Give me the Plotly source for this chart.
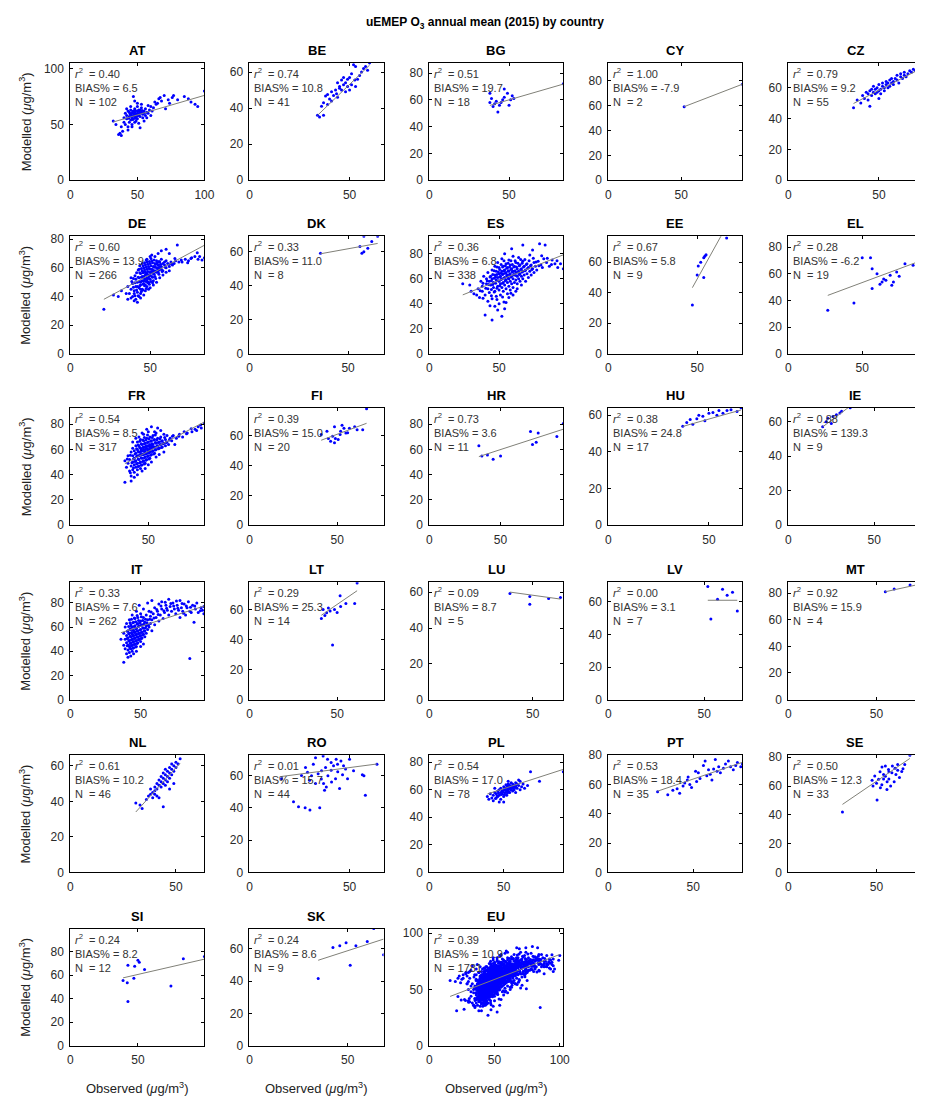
import numpy as np
import plotly.graph_objects as go

W, H = 925, 1109

# ---- panel statistics -------------------------------------------------------
COUNTRIES = ["AT", "BE", "BG", "CY", "CZ",
             "DE", "DK", "ES", "EE", "EL",
             "FR", "FI", "HR", "HU", "IE",
             "IT", "LT", "LU", "LV", "MT",
             "NL", "RO", "PL", "PT", "SE",
             "SI", "SK", "EU"]
R2 = [0.40, 0.74, 0.51, 1.00, 0.79,
      0.60, 0.33, 0.36, 0.67, 0.28,
      0.54, 0.39, 0.73, 0.38, 0.88,
      0.33, 0.29, 0.09, 0.00, 0.92,
      0.61, 0.01, 0.54, 0.53, 0.50,
      0.24, 0.24, 0.39]
BIAS = [6.5, 10.8, 19.7, -7.9, 9.2,
        13.9, 11.0, 6.8, 5.8, -6.2,
        8.5, 15.0, 3.6, 24.8, 139.3,
        7.6, 25.3, 8.7, 3.1, 15.9,
        10.2, 15.7, 17.0, 18.4, 12.3,
        8.2, 8.6, 10.9]
NSTAT = [102, 41, 18, 2, 55,
         266, 8, 338, 9, 19,
         317, 20, 11, 17, 9,
         262, 14, 5, 7, 4,
         46, 44, 78, 35, 33,
         12, 9, 1781]
XMAX = [100, 67, 84, 92, 74,
        84, 68, 96, 75.5, 90.7,
        86, 76.5, 94, 66.7, 78,
        95.4, 76.5, 64.8, 70, 76,
        63.5, 67, 90, 79, 76,
        99.2, 68.3, 102.7]
YMAX = [105, 65, 87.5, 94, 76,
        82, 69, 94, 77, 88,
        93, 78.6, 93, 64, 68,
        97, 78, 65.5, 72, 88,
        66, 72.6, 85, 80, 81.5,
        99.6, 72.6, 104]
FIT_SLOPE = [0.35, 1.07, 0.346, 0.45, 0.61,
             0.60, 0.21, 0.446, 2.1, 0.413,
             0.647, 0.438, 0.367, 0.31, 0.75,
             0.373, 0.8, -0.16, 0.0, 0.29,
             1.31, 0.162, 0.35, 0.394, 0.836,
             0.264, 0.393, 0.443]
FIT_INTERCEPT = [41, -0.4, 42.7, 35.6, 27.8,
                 25.4, 51.2, 36.4, -56, 32.7,
                 26.2, 39, 41.6, 42.4, 42,
                 41.9, 23.3, 66.3, 61, 65,
                 -6.6, 56.8, 43.2, 44, 21.6,
                 47.4, 39.2, 36.7]

# ---- station data (observed, modelled) in ug/m3 -----------------------------
AT = [(32,53),(34,50),(36,41),(38,40),(37,42),(38,48),(40,52),(40,56),(41,60),(42,55),
      (42,58),(43,48),(43,62),(44,57),(44,52),(45,59),(45,54),(45,63),(46,56),(46,60),
      (46,50),(47,58),(47,62),(47,55),(48,57),(48,61),(48,64),(48,52),(49,59),(49,56),
      (50,60),(50,62),(50,55),(50,66),(51,58),(51,63),(52,57),(52,60),(52,47),(53,61),
      (53,65),(54,59),(54,56),(55,62),(55,60),(56,64),(56,58),(57,61),(58,60),(58,67),
      (59,63),(60,66),(61,62),(62,65),(63,70),(64,68),(65,69),(66,73),(67,74),(68,71),
      (70,76),(71,64),(73,72),(74,69),(76,74),(77,76),(80,72),(85,75),(88,73),(90,70),
      (93,68),(95,66),(100,80),(47,75),(50,69),(53,68),(48,71),(45,66),(43,45),(42,64),
      (39,44),(41,50),(55,53),(57,56),(60,58),(46,48),(49,53),(51,51),(44,61),(52,63),
      (43.5,55.5),(44.5,59.5),(45.5,57.5),(46.5,61.5),(46.5,54.5),(47.5,59.5),
      (48.5,55.5),(48.5,62.5),(49.5,57.5),(50.5,59.5),(51.5,61.5),(53.5,62.5)]
BE = [(60,65),(52,64),(53,63),(59,61),(52.6,55.5),(49,56),(46,55.5),(44,54),(53,52),(49,52),
      (45,51),(43,50),(48,49),(43.5,48),(41,49),(39,47.6),(40,45),(38,46.7),(37,43),(36,41),
      (35,35),(37,36),(34,36),(47,53),(50,57),(51,53),(55,58),(56,60),(54,56),(42,47),
      (44,46),(46,50),(48,54),(50,50),(41,44),(39,42),(57,62),(45,52),(47,57),(51,59),(58,63)]
BG = [(84,72),(38,65),(47,62),(51,60),(53,61),(38,58),(40,55),(44,56),(42,59),(43,51),
      (45,58),(50,56),(47,68),(52,63),(39,61),(41,57),(46,60),(49,65)]
CY = [(52,59),(92,77)]
CZ = [(36,47),(38,52),(40,50),(41,55),(42,53),(43,57),(44,52),(44,56),(45,58),(46,55),
      (46,59),(47,57),(47,61),(48,56),(48,59),(49,60),(49,57),(50,58),(50,62),(51,59),
      (51,56),(52,61),(52,63),(53,58),(53,60),(54,62),(54,64),(55,60),(55,63),(56,65),
      (56,61),(57,63),(57,66),(58,64),(58,62),(59,66),(60,65),(60,68),(61,63),(62,67),
      (62,69),(63,66),(64,68),(64,70),(65,67),(66,69),(67,71),(68,70),(69,72),(70,71),
      (71,73),(72,70),(74,76),(45,48),(50,53)]
DE = [(21,31),(27,41),(30,40),(32,44),(35,42),(36,38),(37,42),(38,45),(39,40),(40,37),
      (40,44),(41,38),(41,47),(42,43),(42,50),(43,40),(43,46),(43,53),(44,42),(44,48),
      (44,56),(45,45),(45,51),(45,58),(46,41),(46,49),(46,54),(46,60),(47,44),(47,52),
      (47,57),(47,62),(48,47),(48,53),(48,59),(48,64),(49,50),(49,55),(49,61),(50,46),
      (50,52),(50,57),(50,63),(51,54),(51,59),(51,65),(52,51),(52,56),(52,61),(53,58),
      (53,63),(53,54),(54,60),(54,65),(55,57),(55,62),(56,59),(56,64),(57,61),(57,66),
      (58,58),(58,63),(59,62),(60,60),(60,65),(61,63),(62,61),(63,64),(64,62),(65,63),
      (66,65),(67,76),(68,64),(70,64),(72,66),(74,65),(76,67),(78,68),(80,66),(81,68),
      (84,67),(57,72),(55,70),(53,68),(51,69),(62,70),(60,73),(39,49),(41,52),(43,59),
      (45,63),(42,36),(44,39),(47,48),(49,45),(52,48),(54,50),(56,53),(58,55),(60,57),
      (62,58),(38,53),(36,47),(48,66),(50,68),(46,51),(44,50),(48,56),(50,59),(52,58),
      (49,53),(51,57),(47,55),(53,61),(45,54),(55,60),(57,59),(59,64),(46,57),(48,51),
      (50,55),(54,57),(56,61),(44,45),(42,47),(40,42),(38,39),
      (38.5,50.5),(39.5,52.5),(40.5,49.5),(40.5,54.5),(41.5,56.5),(42.5,53.5),(42.5,58.5),
      (43.5,50.5),(43.5,56.5),(43.5,61.5),(44.5,53.5),(44.5,59.5),(45.5,48.5),(45.5,56.5),
      (45.5,61.5),(46.5,52.5),(46.5,58.5),(46.5,63.5),(47.5,50.5),(47.5,55.5),(47.5,60.5),
      (47.5,65.5),(48.5,52.5),(48.5,57.5),(48.5,62.5),(49.5,54.5),(49.5,59.5),(49.5,64.5),
      (50.5,50.5),(50.5,56.5),(50.5,61.5),(50.5,66.5),(51.5,53.5),(51.5,58.5),(51.5,63.5),
      (52.5,55.5),(52.5,60.5),(52.5,65.5),(53.5,57.5),(53.5,62.5),(54.5,59.5),(54.5,63.5),
      (55.5,58.5),(55.5,64.5),(56.5,62.5),(45.5,44.5),(43.5,47.5),(41.5,44.5),(39.5,46.5),
      (48.5,49.5),(46.5,47.5),(44.5,43.5),(42.5,40.5),(40.5,40.5),(47.5,45.5),(49.5,48.5),
      (51.5,49.5),(53.5,52.5),(55.5,55.5),(57.5,57.5),(59.5,60.5),(61.5,62.5),(63.5,62.5),
      (65.5,66.5),(69.5,65.5),(75.5,66.5),(79.5,70.5),(73.5,63.5),(82.5,65.5)]
DK = [(58,69),(65,69),(56,63),(58,60),(57,59),(60,62),(36,59),(62,66)]
ES = [(24,56),(29,55),(30,50),(32,48),(34,47),(35,52),(36,45),(37,58),(38,50),(38,54),
      (39,62),(40,31),(40,47),(41,56),(41,60),(42,52),(42,65),(43,49),(43,58),(44,55),
      (44,62),(45,27),(45,44),(45,60),(45,67),(46,53),(46,57),(47,50),(47,63),(47,70),
      (48,46),(48,59),(48,66),(49,54),(49,61),(49,73),(50,51),(50,58),(50,64),(50,69),
      (51,47),(51,56),(51,62),(52,30),(52,53),(52,60),(52,66),(52,76),(53,50),(53,57),
      (53,64),(53,70),(54,55),(54,61),(54,67),(54,80),(55,52),(55,59),(55,65),(55,72),
      (56,48),(56,57),(56,63),(56,69),(57,54),(57,60),(57,66),(57,75),(58,51),(58,58),
      (58,64),(58,71),(59,84),(59,56),(59,62),(59,68),(60,53),(60,60),(60,66),(60,78),
      (61,57),(61,63),(61,70),(62,50),(62,59),(62,65),(62,73),(63,56),(63,62),(63,68),
      (64,60),(64,66),(64,77),(65,58),(65,64),(65,71),(66,62),(66,68),(67,87),(67,60),
      (67,66),(67,74),(68,63),(68,70),(69,58),(69,67),(70,64),(70,72),(71,61),(71,69),
      (72,66),(72,79),(73,63),(73,71),(74,83),(74,68),(75,65),(75,73),(76,70),(77,67),
      (78,74),(79,88),(80,71),(81,69),(82,76),(83,87),(84,73),(86,70),(88,75),(90,72),
      (92,69),(94,72),(96,68),(57,45),(60,47),(63,52),(66,55),(55,41),(50,40),(47,38),
      (42,42),(54,36),(49,35),
      (38.5,56.5),(40.5,52.5),(41.5,58.5),(42.5,55.5),(43.5,61.5),(44.5,51.5),(44.5,58.5),
      (45.5,55.5),(45.5,63.5),(46.5,49.5),(46.5,60.5),(46.5,66.5),(47.5,56.5),(47.5,61.5),
      (48.5,52.5),(48.5,63.5),(48.5,69.5),(49.5,58.5),(49.5,65.5),(50.5,54.5),(50.5,61.5),
      (50.5,67.5),(51.5,59.5),(51.5,64.5),(51.5,71.5),(52.5,56.5),(52.5,63.5),(52.5,69.5),
      (53.5,60.5),(53.5,66.5),(53.5,74.5),(54.5,58.5),(54.5,64.5),(54.5,70.5),(55.5,62.5),
      (55.5,68.5),(56.5,60.5),(56.5,66.5),(56.5,72.5),(57.5,63.5),(57.5,69.5),(58.5,61.5),
      (58.5,67.5),(58.5,74.5),(59.5,65.5),(59.5,71.5),(60.5,63.5),(60.5,69.5),(61.5,66.5),
      (61.5,74.5),(62.5,62.5),(62.5,69.5),(63.5,65.5),(63.5,72.5),(64.5,63.5),(64.5,70.5),
      (65.5,67.5),(65.5,75.5),(66.5,65.5),(66.5,72.5),(67.5,69.5),(68.5,66.5),(68.5,75.5),
      (69.5,71.5),(70.5,68.5),(71.5,74.5),(72.5,70.5),(73.5,67.5),(74.5,76.5),(76.5,73.5),
      (78.5,70.5),(80.5,78.5),(84.5,76.5),(87.5,71.5),(91.5,74.5),(44.5,46.5),(48.5,43.5),
      (52.5,45.5),(53.5,41.5),(58.5,48.5),(43.5,38.5),(38.5,44.5),(36.5,50.5)]
EE = [(47.3,32),(50,51.6),(53.7,50),(50.6,57.6),(54.3,64),(53.7,63),(66.6,76),(55,65),(52,60)]
EL = [(26.7,32.5),(44.4,38),(56.7,48.8),(50,72),(55.6,72),(56.7,63.8),(63.4,53.8),(64.5,56),
      (68.9,58.8),(70,51.3),(71.1,53.8),(73.3,61.3),(78.9,67.5),(84.4,66.3),(66,55),(62,52),
      (60,60),(75,58),(88,70)]
FR = [(35,34),(39,35),(35,51),(36,46),(37,49),(37,55),(38,43),(38,52),(39,47),(39,58),
      (40,44),(40,50),(40,55),(40,61),(41,42),(41,48),(41,53),(41,59),(42,46),(42,51),
      (42,57),(42,63),(43,44),(43,49),(43,55),(43,60),(43,66),(44,47),(44,52),(44,58),
      (44,63),(45,45),(45,50),(45,56),(45,61),(45,68),(46,48),(46,53),(46,59),(46,64),
      (47,51),(47,56),(47,62),(47,67),(47,72),(48,49),(48,54),(48,60),(48,65),(49,52),
      (49,57),(49,63),(49,69),(50,55),(50,60),(50,66),(50,74),(51,53),(51,58),(51,64),
      (51,70),(52,56),(52,61),(52,67),(52,78),(53,59),(53,64),(53,71),(54,57),(54,62),
      (54,68),(55,60),(55,65),(55,73),(56,63),(56,69),(56,77),(57,61),(57,66),(58,64),
      (58,70),(59,62),(59,67),(60,65),(60,72),(61,63),(61,68),(62,66),(62,71),(63,64),
      (64,69),(65,67),(66,71),(67,64),(68,69),(70,72),(72,70),(73,74),(75,73),(78,74),
      (80,76),(81,75),(82,78),(84,77),(86,81),(44,70),(46,73),(49,76),(54,74),(58,75),
      (40,66),(42,69),(39,39),(41,38),(43,40),(46,43),(48,45),(50,48),(52,50),(55,54),
      (57,56),(60,58),(50,63),(48,58),(46,56),(47,60),(49,61),(51,62),(52,63),(53,62),
      (45,58),(44,55),(48,62),(50,58),(51,60),
      (40.5,52.5),(41.5,50.5),(41.5,56.5),(42.5,48.5),(42.5,54.5),(42.5,60.5),(43.5,46.5),
      (43.5,52.5),(43.5,58.5),(43.5,63.5),(44.5,49.5),(44.5,55.5),(44.5,61.5),(44.5,66.5),
      (45.5,47.5),(45.5,53.5),(45.5,59.5),(45.5,64.5),(46.5,50.5),(46.5,56.5),(46.5,61.5),
      (46.5,67.5),(47.5,48.5),(47.5,53.5),(47.5,58.5),(47.5,64.5),(47.5,69.5),(48.5,51.5),
      (48.5,56.5),(48.5,62.5),(48.5,67.5),(49.5,54.5),(49.5,59.5),(49.5,65.5),(49.5,71.5),
      (50.5,52.5),(50.5,57.5),(50.5,62.5),(50.5,68.5),(51.5,55.5),(51.5,60.5),(51.5,66.5),
      (52.5,58.5),(52.5,64.5),(52.5,69.5),(53.5,56.5),(53.5,61.5),(53.5,67.5),(54.5,59.5),
      (54.5,65.5),(54.5,71.5),(55.5,62.5),(55.5,67.5),(56.5,60.5),(56.5,65.5),(57.5,63.5),
      (57.5,68.5),(58.5,61.5),(58.5,66.5),(59.5,64.5),(60.5,69.5),(61.5,65.5),(63.5,67.5),
      (65.5,70.5),(69.5,70.5),(74.5,72.5),(77.5,76.5),(83.5,79.5),(38.5,41.5),(40.5,45.5),
      (39.5,49.5),(38.5,55.5),(36.5,52.5)]
FI = [(66.8,78),(48.5,66),(52.8,67),(57,65),(47.4,59.6),(50.6,57.4),(46.3,56.3),(48.5,55.2),
      (51.7,60.7),(55,61.8),(61.4,64),(64.6,64),(40.9,60.7),(53.9,65),(44.2,62.9),(49,58),
      (52,63),(45,58),(56,62),(60,66)]
HR = [(36.9,54.9),(40.8,55.6),(44.8,52.3),(50,54.9),(34.8,63),(71,74.3),(76.4,73),
      (72.4,63.9),(75,65.7),(89.5,70.4),(94,80.7)]
HU = [(37,54),(39,56),(40.7,57.7),(42,55),(44,58),(45,60),(47,59.4),(48,57),(50,61),
      (52,61.5),(54,60),(55,62.5),(57,61),(59,62.6),(61,63),(64,62),(66,64)]
IE = [(20,57),(22,60),(23,62),(25,59),(26,63),(28,64),(30,65),(31,66),(36,68)]
IT = [(38,31),(85,34),(36,50),(38,45),(38,55),(39,42),(39,50),(39,60),(40,38),(40,47),
      (40,53),(40,63),(41,41),(41,45),(41,51),(41,57),(42,39),(42,44),(42,49),(42,55),
      (42,66),(43,42),(43,47),(43,52),(43,58),(43,62),(44,40),(44,45),(44,50),(44,54),
      (44,60),(44,70),(45,43),(45,48),(45,53),(45,57),(45,64),(46,46),(46,51),(46,56),
      (46,61),(46,67),(47,44),(47,49),(47,54),(47,59),(47,73),(48,47),(48,52),(48,57),
      (48,63),(48,68),(49,50),(49,55),(49,61),(49,78),(50,48),(50,53),(50,58),(50,65),
      (50,71),(51,51),(51,56),(51,62),(52,54),(52,59),(52,68),(52,75),(53,52),(53,57),
      (53,64),(54,55),(54,61),(54,70),(55,58),(55,66),(55,80),(56,60),(56,73),(57,63),
      (57,69),(58,57),(58,66),(58,82),(59,71),(60,62),(60,76),(61,68),(62,73),(63,79),
      (63,65),(64,70),(65,81),(65,75),(66,67),(67,72),(68,78),(69,74),(70,83),(70,70),
      (71,77),(72,73),(73,80),(74,75),(75,71),(76,78),(77,74),(78,82),(78,68),(79,76),
      (80,73),(81,79),(82,70),(83,76),(84,81),(85,73),(86,72),(87,78),(88,64),(89,75),
      (90,80),(91,72),(93,76),(94,74),(95,71),(95,77),(50,44),(52,46),(45,38),(47,40),
      (41,35),(43,36),
      (40.5,44.5),(40.5,50.5),(40.5,56.5),(41.5,48.5),(41.5,54.5),(41.5,60.5),(42.5,42.5),
      (42.5,46.5),(42.5,52.5),(42.5,58.5),(42.5,63.5),(43.5,44.5),(43.5,49.5),(43.5,55.5),
      (43.5,60.5),(43.5,66.5),(44.5,42.5),(44.5,47.5),(44.5,52.5),(44.5,57.5),(44.5,63.5),
      (45.5,45.5),(45.5,50.5),(45.5,55.5),(45.5,60.5),(45.5,67.5),(46.5,43.5),(46.5,48.5),
      (46.5,53.5),(46.5,58.5),(46.5,64.5),(47.5,46.5),(47.5,51.5),(47.5,56.5),(47.5,62.5),
      (47.5,69.5),(48.5,49.5),(48.5,54.5),(48.5,60.5),(48.5,65.5),(49.5,52.5),(49.5,57.5),
      (49.5,63.5),(50.5,50.5),(50.5,55.5),(50.5,61.5),(50.5,68.5),(51.5,53.5),(51.5,59.5),
      (51.5,65.5),(52.5,56.5),(52.5,62.5),(53.5,59.5),(53.5,66.5),(54.5,63.5),(55.5,61.5),
      (56.5,66.5),(57.5,72.5),(59.5,67.5),(61.5,74.5),(64.5,77.5),(66.5,73.5),(68.5,75.5),
      (71.5,79.5),(73.5,77.5),(76.5,75.5),(79.5,79.5),(82.5,77.5),(85.5,76.5),(88.5,77.5),
      (92.5,73.5),(62.5,70.5),(67.5,80.5),(75.5,81.5),(80.5,71.5)]
LT = [(51.7,69),(60,64),(48.5,60),(42,60),(44,57.8),(46,59),(41,54),(47.4,36.4),(61.4,77.5),
      (52,62),(50,58),(43,56),(45,61),(55,64)]
LU = [(39,59.3),(48.6,57.6),(57.7,56.5),(48.6,53.2),(63.4,57)]
LV = [(51.9,69.5),(59.6,67.7),(64.8,65.9),(57,61.6),(53.5,49.5),(67.3,54.4),(62,64)]
MT = [(55,81),(60,83),(69,86),(74,87)]
NL = [(31,39),(33,38),(34,36),(36,41),(37,43),(38,44),(38,47),(39,45),(39,42),(40,46),
      (40,48),(40,44),(41,47),(41,50),(41,43),(42,42),(42,49),(42,52),(43,48),(43,51),
      (43,54),(44,37),(44,50),(44,53),(44,56),(45,49),(45,52),(45,55),(45,58),(46,51),
      (46,54),(46,57),(47,53),(47,56),(47,59),(47,47),(48,55),(48,58),(48,61),(49,57),
      (49,60),(49,50),(50,59),(50,62),(51,61),(52,64)]
RO = [(36.8,72),(31.9,67),(40.8,68),(43.3,70),(45.7,69),(34.3,61),(31,59.8),(35.9,57.9),
      (39.2,59.8),(40.8,63.3),(44.1,62.3),(46.5,60.4),(56.4,60.4),(57.2,59.8),(63.7,67),
      (57.9,47.8),(22,43.7),(24.5,40.7),(27.8,40.1),(30.2,38.7),(35.1,40.1),(38.4,52.9),
      (37.5,50.8),(33,55),(29,62),(42,66),(48,64),(50,70),(47,66),(38,65),(36,63),(41,56),
      (43,58),(45,52),(33,71),(39,70),(52,63),(49,58),(28,65),(26,60),(44,67),(37,55),
      (30,57),(16,58)]
PL = [(39,55),(40,53),(41,57),(42,54),(43,52),(43,56),(44,58),(45,54),(45,57),(46,55),
      (46,59),(47,56),(47,60),(48,53),(48,58),(48,61),(49,57),(49,59),(50,55),(50,60),
      (50,62),(51,58),(51,61),(52,59),(52,63),(52,56),(53,60),(53,62),(53,64),(54,58),
      (54,61),(54,63),(55,60),(55,62),(55,65),(56,59),(56,61),(56,64),(57,60),(57,63),
      (58,62),(58,65),(59,61),(59,64),(60,63),(61,60),(61,66),(62,62),(63,64),(64,61),
      (66,63),(68,73),(74,66),(90,73),(47,51),(50,51),(44,61),(58,58),(60,67),(53,66),
      (49.5,58.5),(51.5,59.5),(52.5,61.5),(53.5,58.5),(54.5,62.5),(55.5,61.5),(56.5,62.5),
      (50.5,56.5),(48.5,56.5),(46.5,57.5),(57.5,61.5),(51.5,63.5),(54.5,60.5),(52.5,57.5),
      (45.5,55.5),(44.5,53.5),(58.5,63.5),(53.5,63.5)]
PT = [(29,55),(35,53),(38,56),(40.5,57),(42,54),(44,59),(46.5,63),(48,60),(49,58),(51.4,69),
      (52,62),(54,64),(56,73),(57,76),(58,66),(60,67),(61,63),(62,70.6),(63,77),(64,69),
      (65,72),(66,68),(67.8,71),(69,74),(70.7,76),(72,72),(73.6,70),(75,73),(76,75),(78,72),
      (79,74),(47,65),(53,68),(59,70),(45,61)]
SE = [(30.7,42),(50.3,50.3),(52.2,58.8),(55,66.9),(56.8,71.6),(53.1,73.2),(58.7,69.2),
      (60.5,72.4),(64.3,70.1),(55.9,57.7),(51.2,64.8),(47.5,64.1),(68.9,81.5),(54,68),(57,65),
      (59,74),(61,68),(62,75),(52,70),(50,62),(56,63),(58,60),(63,66),(65,72),(53,61),
      (49,67),(60,63),(55,74),(57,70),(54,65),(66,75),(48,60),(62,71)]
SI = [(39,55.5),(42.1,53.6),(42.6,68.5),(42.6,37.6),(47,57.3),(50,72.7),(51,71),(47.6,67.5),
      (54.9,64.8),(83.6,73.9),(74.4,50.7),(99.2,75.9)]
SK = [(35,41.7),(42.5,60.8),(49.2,63.8),(54.2,62),(60,64.5),(51.3,49.9),(68.3,56.3),
      (63.3,72.6),(46,62)]

STATIONS = [AT, BE, BG, CY, CZ, DE, DK, ES, EE, EL, FR, FI, HR, HU, IE,
            IT, LT, LU, LV, MT, NL, RO, PL, PT, SE, SI, SK]
# the EU panel pools every national network
EU = [p for country in STATIONS for p in country]
STATIONS = STATIONS + [EU]

# ---- layout geometry (pixels) -----------------------------------------------
COL_LEFT = [68.3, 250.0, 432.3, 614.0, 796.5]
ROW_TOP = [56.7, 232.3, 406.0, 582.7, 757.7, 933.3]
BOX_W, BOX_H = 136.0, 118.8

FONT = "Liberation Sans, Arial, Helvetica, sans-serif"
DOT = "rgb(0,0,255)"
FITC = "rgb(128,128,120)"

fig = go.Figure()
annotations = []

for i, name in enumerate(COUNTRIES):
    r, c = divmod(i, 5)
    k = "" if i == 0 else str(i + 1)
    left = COL_LEFT[c]
    right = min(left + BOX_W, W)
    top = ROW_TOP[r]
    bottom = top + BOX_H
    xmax_vis = XMAX[i] * (right - left) / BOX_W
    clipped = right < left + BOX_W

    pts = np.array(STATIONS[i], dtype=float)
    obs, mod = pts[:, 0], pts[:, 1]

    fig.add_trace(go.Scatter(
        x=obs, y=mod, mode="markers", xaxis="x" + k, yaxis="y" + k,
        marker=dict(color=DOT, size=3, line=dict(width=0)),
        showlegend=False, hoverinfo="skip"))

    xf = np.array([obs.min(), obs.max()])
    yf = FIT_SLOPE[i] * xf + FIT_INTERCEPT[i]
    fig.add_trace(go.Scatter(
        x=xf, y=yf, mode="lines", xaxis="x" + k, yaxis="y" + k,
        line=dict(color=FITC, width=1), showlegend=False, hoverinfo="skip"))

    ydt = 50 if YMAX[i] >= 100 else 20
    axis_common = dict(
        showgrid=False, zeroline=False, showline=True, linecolor="black",
        linewidth=1, ticks="inside", ticklen=3, tickcolor="black",
        ticklabelstandoff=3,
        tickfont=dict(family=FONT, size=12, color="#2a2a2a"))
    fig.update_layout(**{
        "xaxis" + k: dict(
            domain=[left / W, right / W], range=[0, xmax_vis],
            tickmode="linear", tick0=0, dtick=50, mirror="ticks",
            anchor="y" + k, **axis_common),
        "yaxis" + k: dict(
            domain=[1 - bottom / H, 1 - top / H], range=[0, YMAX[i]],
            tickmode="linear", tick0=0, dtick=ydt,
            mirror=False if clipped else "ticks",
            anchor="x" + k, **axis_common),
    })

    # panel title
    annotations.append(dict(
        x=(left + BOX_W / 2) / W, y=1 - (top - 3) / H, xref="paper", yref="paper",
        text="<b>%s</b>" % name, showarrow=False, xanchor="center", yanchor="bottom",
        font=dict(family=FONT, size=13, color="black")))

    # statistics block
    stats = ("<i>r</i><sup>2</sup>  = %.2f<br>BIAS%% = %.1f<br>N  = %d"
             % (R2[i], BIAS[i], NSTAT[i]))
    annotations.append(dict(
        x=(left + 3) / W, y=1 - (top + 1) / H, xref="paper", yref="paper",
        text=stats, showarrow=False, xanchor="left", yanchor="top", align="left",
        font=dict(family=FONT, size=11, color="#333333")))

    if c == 0:
        annotations.append(dict(
            x=22 / W, y=1 - (top + BOX_H / 2) / H, xref="paper", yref="paper",
            text="Modelled (<i>μ</i>g/m<sup>3</sup>)", textangle=-90, showarrow=False,
            xanchor="center", yanchor="middle",
            font=dict(family=FONT, size=13, color="#222222")))
    if r == 5:
        annotations.append(dict(
            x=(left + BOX_W / 2) / W, y=1 - 1095 / H, xref="paper", yref="paper",
            text="Observed (<i>μ</i>g/m<sup>3</sup>)", showarrow=False,
            xanchor="center", yanchor="middle",
            font=dict(family=FONT, size=13, color="#222222")))

annotations.append(dict(
    x=489 / W, y=1 - 16 / H, xref="paper", yref="paper",
    text="<b>uEMEP O<sub>3</sub> annual mean (2015) by country</b>", showarrow=False,
    xanchor="center", yanchor="middle", font=dict(family=FONT, size=12, color="black")))

fig.update_layout(
    width=W, height=H, autosize=False,
    margin=dict(l=0, r=0, t=0, b=0),
    paper_bgcolor="white", plot_bgcolor="white",
    annotations=annotations,
)

fig.write_html("out.html")
